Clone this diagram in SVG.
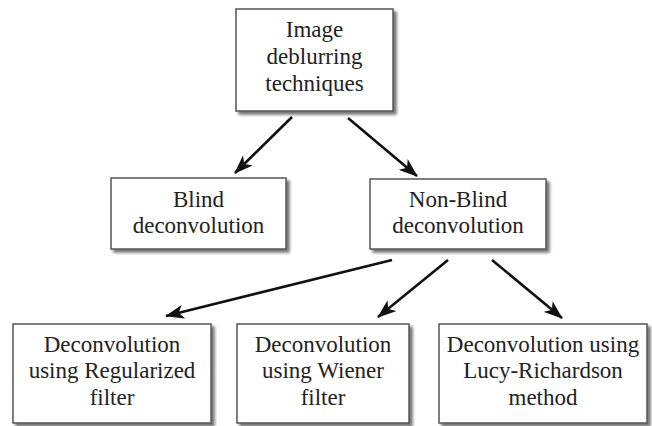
<svg xmlns="http://www.w3.org/2000/svg" width="652" height="426" viewBox="0 0 652 426">
<defs>
<filter id="sh" x="-10%" y="-10%" width="130%" height="140%">
<feGaussianBlur in="SourceAlpha" stdDeviation="1.8"/>
<feOffset dx="3" dy="3" result="b"/>
<feComponentTransfer><feFuncA type="linear" slope="0.55"/></feComponentTransfer>
<feMerge><feMergeNode/><feMergeNode in="SourceGraphic"/></feMerge>
</filter>
<marker id="ah" viewBox="0 0 20 14" refX="18" refY="7" markerWidth="20" markerHeight="14" markerUnits="userSpaceOnUse" orient="auto">
<path d="M0,0 L19,7 L0,14 L5,7 Z" fill="#111"/>
</marker>
</defs>
<style>
.box{fill:#fff;stroke:#555;stroke-width:1.5;filter:url(#sh)}
text{font-family:'Liberation Serif','Times New Roman',Tinos,'DejaVu Serif',serif;font-size:23px;fill:#222;text-anchor:middle}
.c{stroke:#111;stroke-width:2.6;fill:none;marker-end:url(#ah)}
</style>
<rect width="652" height="426" fill="#fff"/>
<g id="connectors">
<line class="c" x1="292" y1="117" x2="235" y2="173"/>
<line class="c" x1="348" y1="118" x2="417" y2="176"/>
<line class="c" x1="392" y1="260" x2="166" y2="316"/>
<line class="c" x1="448" y1="260" x2="378" y2="317"/>
<line class="c" x1="492" y1="260" x2="562" y2="318"/>
</g>
<g id="n-root">
<rect class="box" x="236" y="9" width="157" height="102"/>
<text x="314.5" y="37">Image</text>
<text x="314.5" y="64">deblurring</text>
<text x="314.5" y="91">techniques</text>
</g>
<g id="n-blind">
<rect class="box" x="111" y="178" width="175" height="71"/>
<text x="198.5" y="207">Blind</text>
<text x="198.5" y="233">deconvolution</text>
</g>
<g id="n-nonblind">
<rect class="box" x="370" y="179" width="176" height="70"/>
<text x="458" y="207">Non-Blind</text>
<text x="458" y="233">deconvolution</text>
</g>
<g id="n-reg">
<rect class="box" x="13" y="324" width="198" height="99"/>
<text x="112" y="352">Deconvolution</text>
<text x="112" y="378">using Regularized</text>
<text x="112" y="405">filter</text>
</g>
<g id="n-wiener">
<rect class="box" x="237" y="324" width="172" height="99"/>
<text x="323" y="352">Deconvolution</text>
<text x="323" y="378">using Wiener</text>
<text x="323" y="405">filter</text>
</g>
<g id="n-lucy">
<rect class="box" x="439" y="324" width="208" height="99"/>
<text x="543" y="352">Deconvolution using</text>
<text x="543" y="378">Lucy-Richardson</text>
<text x="543" y="405">method</text>
</g>
</svg>
